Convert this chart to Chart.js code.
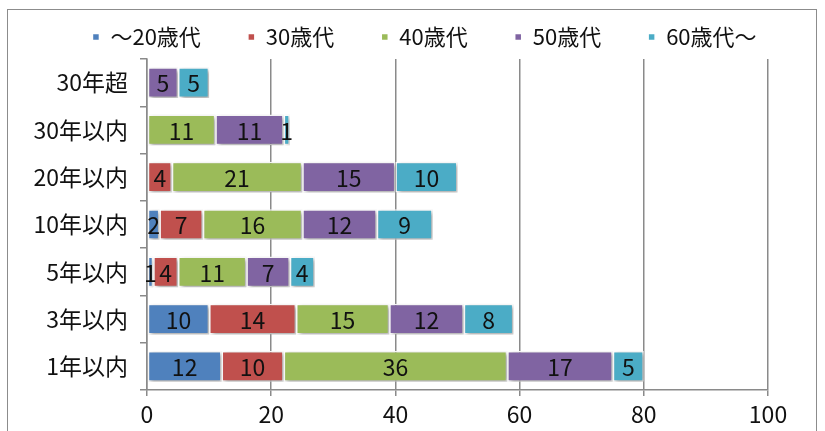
<!DOCTYPE html>
<html>
<head>
<meta charset="utf-8">
<script src="https://cdn.jsdelivr.net/npm/chart.js@4/dist/chart.umd.min.js"></script>
<style>
  html, body { margin: 0; padding: 0; background: #fff; }
  #frame { position: absolute; left: 7px; top: 9px; width: 810px; height: 440px; border: 1.5px solid #8c8c8c; box-sizing: border-box; }
  #wrap { position: absolute; left: 0; top: 0; width: 825px; height: 431px; }
</style>
</head>
<body>
<div id="frame"></div>
<div id="wrap"><canvas id="chart"></canvas></div>
<script>
const categories = ['30年超', '30年以内', '20年以内', '10年以内', '5年以内', '3年以内', '1年以内'];
const seriesNames = ['～20歳代', '30歳代', '40歳代', '50歳代', '60歳代～'];
const seriesColors = ['#4F81BD', '#C0504D', '#9BBB59', '#8064A2', '#4BACC6'];
const age20 = [0, 0, 0, 2, 1, 10, 12];
const age30 = [0, 0, 4, 7, 4, 14, 10];
const age40 = [0, 11, 21, 16, 11, 15, 36];
const age50 = [5, 11, 15, 12, 7, 12, 17];
const age60 = [5, 1, 10, 9, 4, 8, 5];
const xTicks = [0, 20, 40, 60, 80, 100];

const FONT = '"Noto Sans CJK JP", "Noto Sans", sans-serif';

// soft shadow behind the bars
const shadowPlugin = {
  id: 'barShadow',
  beforeDatasetDraw(chart) {
    const ctx = chart.ctx;
    ctx.save();
    ctx.shadowColor = 'rgba(0,0,0,0.35)';
    ctx.shadowBlur = 4;
    ctx.shadowOffsetX = 2;
    ctx.shadowOffsetY = 2;
  },
  afterDatasetDraw(chart) {
    chart.ctx.restore();
  }
};

// value labels in the middle of each segment
const valueLabels = {
  id: 'valueLabels',
  afterDatasetsDraw(chart) {
    const ctx = chart.ctx;
    ctx.save();
    ctx.font = '23px ' + FONT;
    ctx.fillStyle = '#111';
    ctx.textAlign = 'center';
    ctx.textBaseline = 'middle';
    chart.data.datasets.forEach((ds, i) => {
      chart.getDatasetMeta(i).data.forEach((bar, j) => {
        const v = ds.data[j];
        if (!v) return;
        const p = bar.getProps(['x', 'y', 'base'], true);
        ctx.fillText(String(v), (p.x + p.base) / 2, p.y + 1);
      });
    });
    ctx.restore();
  }
};

const dataSets = [age20, age30, age40, age50, age60].map((arr, i) => ({
  label: seriesNames[i],
  data: arr,
  backgroundColor: seriesColors[i],
  borderColor: '#ffffff',
  borderWidth: 1.5,
  borderSkipped: false,
  barPercentage: 0.65,
  categoryPercentage: 1
}));

new Chart(document.getElementById('chart'), {
  type: 'bar',
  data: { labels: categories, datasets: dataSets },
  options: {
    indexAxis: 'y',
    responsive: true,
    maintainAspectRatio: false,
    animation: false,
    layout: { padding: { top: -21, right: 0, bottom: 0, left: 24 } },
    plugins: {
      legend: {
        position: 'top',
        labels: {
          font: { family: FONT, size: 22 },
          color: '#111',
          boxWidth: 7,
          boxHeight: 7,
          padding: 47
        }
      },
      tooltip: { enabled: false }
    },
    scales: {
      x: {
        stacked: true,
        min: 0,
        max: 100,
        afterBuildTicks(scale) { scale.ticks = xTicks.map(v => ({ value: v })); },
        afterFit(scale) { scale.height = 41; },
        grid: { color: '#8a8a8a', lineWidth: 1.5, tickLength: 6 },
        border: { display: true, color: '#8a8a8a', width: 1.5 },
        ticks: { font: { family: FONT, size: 23 }, color: '#111', padding: 4 }
      },
      // spacer between legend and plot
      xTop: {
        type: 'linear',
        position: 'top',
        min: 0,
        max: 100,
        afterFit(scale) { scale.height = 1; },
        grid: { display: false },
        border: { display: false },
        ticks: { display: false }
      },
      y: {
        stacked: true,
        afterFit(scale) { scale.width = 123; },
        grid: { drawOnChartArea: false, color: '#8a8a8a', lineWidth: 1.5, tickLength: 7, offset: true },
        border: { display: true, color: '#8a8a8a', width: 1.5 },
        ticks: { font: { family: FONT, size: 23 }, color: '#111', padding: 12 }
      },
      // spacer on the right side of the plot
      yRight: {
        type: 'linear',
        position: 'right',
        afterFit(scale) { scale.width = 57; },
        grid: { display: false },
        border: { display: false },
        ticks: { display: false }
      }
    }
  },
  plugins: [shadowPlugin, valueLabels]
});
</script>
</body>
</html>
